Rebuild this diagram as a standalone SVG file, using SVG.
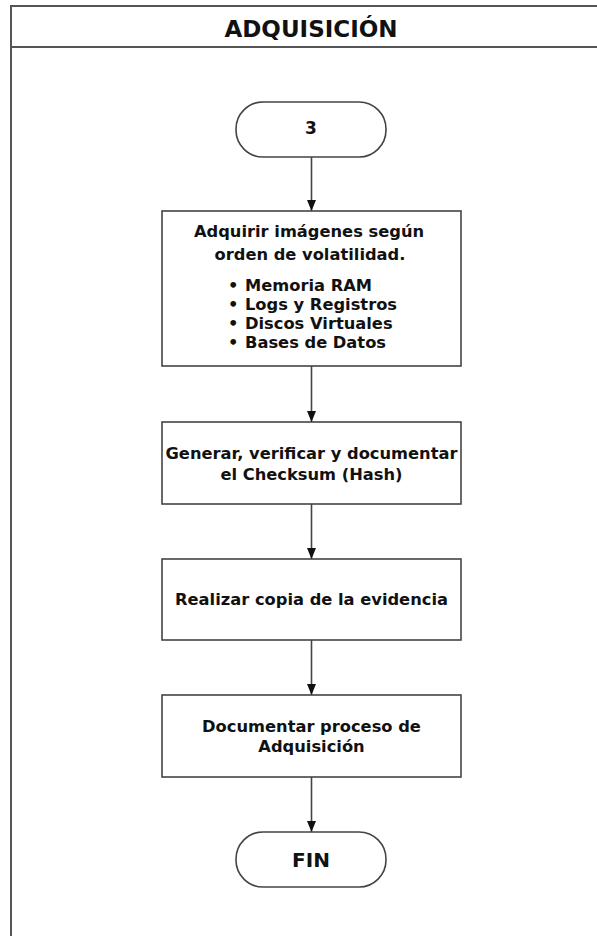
<svg xmlns="http://www.w3.org/2000/svg" width="597" height="936" viewBox="0 0 597 936">
<style>
text{font-family:"DejaVu Sans","Verdana",sans-serif;font-weight:bold;fill:#111;}
.t{font-size:16.3px;text-anchor:middle;}
.l{font-size:16.3px;}
.box{fill:#fff;stroke:#444;stroke-width:1.6;}
.conn{stroke:#444;stroke-width:1.6;fill:none;}
</style>
<defs>
<marker id="ah" markerUnits="userSpaceOnUse" markerWidth="12" markerHeight="12" viewBox="0 0 12 12" refX="11" refY="6" orient="auto">
<path d="M0,1.5 L11,6 L0,10.5 z" fill="#111"/>
</marker>
</defs>
<rect x="0" y="0" width="597" height="936" fill="#fff"/>
<g id="frame">
<rect x="11" y="6" width="600" height="940" fill="none" stroke="#555" stroke-width="2"/>
<line x1="11" y1="47" x2="597" y2="47" stroke="#555" stroke-width="2"/>
<text x="311" y="37" style="font-size:23px;text-anchor:middle">ADQUISICIÓN</text>
</g>
<g id="connectors">
<line class="conn" x1="311.5" y1="157" x2="311.5" y2="211" marker-end="url(#ah)"/>
<line class="conn" x1="311.5" y1="366" x2="311.5" y2="422" marker-end="url(#ah)"/>
<line class="conn" x1="311.5" y1="504" x2="311.5" y2="559" marker-end="url(#ah)"/>
<line class="conn" x1="311.5" y1="640" x2="311.5" y2="695" marker-end="url(#ah)"/>
<line class="conn" x1="311.5" y1="777" x2="311.5" y2="832" marker-end="url(#ah)"/>
</g>
<g id="start">
<rect class="box" x="236" y="102" width="150" height="55" rx="27" ry="27"/>
<text class="t" x="311" y="134" style="font-size:17px">3</text>
</g>
<g id="adquirir">
<rect class="box" x="162" y="211" width="299" height="155"/>
<text class="t" x="309" y="237">Adquirir imágenes según</text>
<text class="t" x="310" y="260">orden de volatilidad.</text>
<text class="l" x="228" y="291">•<tspan x="245">Memoria RAM</tspan></text>
<text class="l" x="228" y="310">•<tspan x="245">Logs y Registros</tspan></text>
<text class="l" x="228" y="329">•<tspan x="245">Discos Virtuales</tspan></text>
<text class="l" x="228" y="348">•<tspan x="245">Bases de Datos</tspan></text>
</g>
<g id="hash">
<rect class="box" x="162" y="422" width="299" height="82"/>
<text class="t" x="311.5" y="459">Generar, verificar y documentar</text>
<text class="t" x="311.5" y="480">el Checksum (Hash)</text>
</g>
<g id="copia">
<rect class="box" x="162" y="559" width="299" height="81"/>
<text class="t" x="311.5" y="605">Realizar copia de la evidencia</text>
</g>
<g id="documentar">
<rect class="box" x="162" y="695" width="299" height="82"/>
<text class="t" x="311.5" y="732">Documentar proceso de</text>
<text class="t" x="311.5" y="752">Adquisición</text>
</g>
<g id="fin">
<rect class="box" x="236" y="832" width="150" height="55" rx="27" ry="27"/>
<text class="t" x="311" y="867" style="font-size:20px">FIN</text>
</g>
</svg>
